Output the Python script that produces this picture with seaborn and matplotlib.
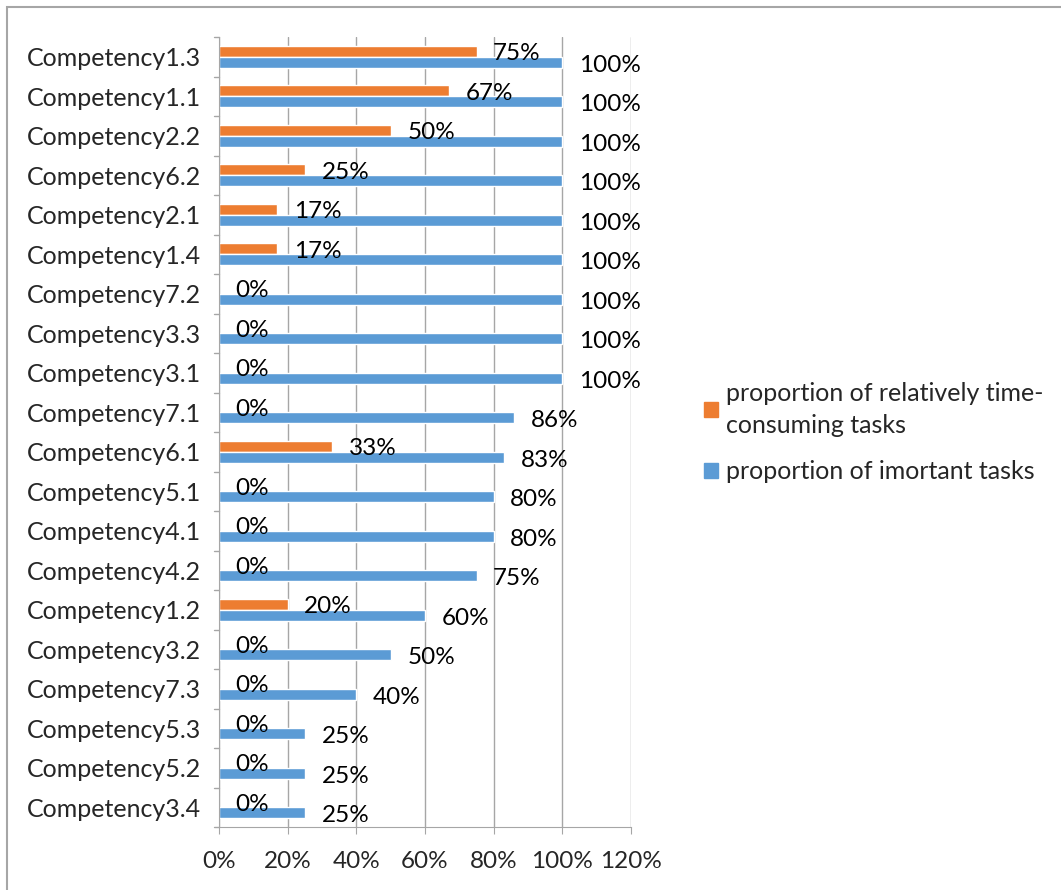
import pandas as pd
import seaborn as sns
import matplotlib.pyplot as plt
from matplotlib.patches import Rectangle, Patch

competencies = ["Competency1.3", "Competency1.1", "Competency2.2", "Competency6.2", "Competency2.1",
                "Competency1.4", "Competency7.2", "Competency3.3", "Competency3.1", "Competency7.1",
                "Competency6.1", "Competency5.1", "Competency4.1", "Competency4.2", "Competency1.2",
                "Competency3.2", "Competency7.3", "Competency5.3", "Competency5.2", "Competency3.4"]
time_consuming = [75, 67, 50, 25, 17, 17, 0, 0, 0, 0, 33, 0, 0, 0, 20, 0, 0, 0, 0, 0]
important = [100, 100, 100, 100, 100, 100, 100, 100, 100, 86, 83, 80, 80, 75, 60, 50, 40, 25, 25, 25]
series = ["proportion of relatively time-consuming tasks", "proportion of imortant tasks"]
legend_labels = ["proportion of relatively time-\nconsuming tasks", "proportion of imortant tasks"]
colors = ["#ED7D31", "#5B9BD5"]

df = pd.DataFrame({
    "competency": competencies * 2,
    "value": time_consuming + important,
    "series": [series[0]] * len(competencies) + [series[1]] * len(competencies),
})

sns.set_style("white")
plt.rcParams["font.family"] = ["Lato", "DejaVu Sans"]

fig = plt.figure(figsize=(10.61, 8.90), dpi=100)
ax = fig.add_axes([219 / 1061, 1 - 827 / 890, 412 / 1061, 790 / 890])

sns.barplot(data=df, x="value", y="competency", hue="series", hue_order=series,
            palette=colors, orient="h", width=0.56, gap=0, saturation=1,
            legend=False, ax=ax)

# data labels, nudged a little below bar centre as in the original
for cont in ax.containers:
    lbls = ax.bar_label(cont, labels=[f"{int(round(b.get_width()))}%" for b in cont],
                        padding=12, fontsize=17.5, color="black")
    for t in lbls:
        x, y = t.xyann
        t.xyann = (x, y - 2)

ax.set_xlim(0, 120)
ax.set_ylim(len(competencies) - 0.5, -0.5)
ax.set_xticks(range(0, 121, 20))
ax.set_xticklabels([f"{t}%" for t in range(0, 121, 20)], fontsize=17.5)
ax.tick_params(axis="y", labelsize=18, length=0, pad=13)
ax.tick_params(axis="x", length=5, color="#a6a6a6", pad=12, direction="out", bottom=True)
ax.set_xlabel("")
ax.set_ylabel("")
ax.grid(axis="x", color="#a6a6a6", linewidth=1)
ax.set_axisbelow(True)
for s in ["top", "right"]:
    ax.spines[s].set_visible(False)
ax.spines["left"].set_color("#a6a6a6")
ax.spines["bottom"].set_color("#a6a6a6")

# small category-boundary ticks on the left axis
for b in range(len(competencies) + 1):
    ax.plot([-1.4, 0], [b - 0.5, b - 0.5], color="#a6a6a6", lw=1, clip_on=False)

handles = [Patch(color=c) for c in colors]
leg = fig.legend(handles, legend_labels, loc="upper left", bbox_to_anchor=(704 / 1061, 1 - 382 / 890),
                 frameon=False, fontsize=18, handlelength=0.55, handleheight=0.55, handletextpad=0.35,
                 labelspacing=0.95, borderpad=0, borderaxespad=0)
for t in leg.get_texts():
    t.set_linespacing(1.45)

fig.patches.append(Rectangle((7 / 1061, -0.05), 1.1, 1.05 - 7 / 890, transform=fig.transFigure,
                             fill=False, edgecolor="#a6a6a6", linewidth=1.5))

fig.savefig("out.png", dpi=100)
